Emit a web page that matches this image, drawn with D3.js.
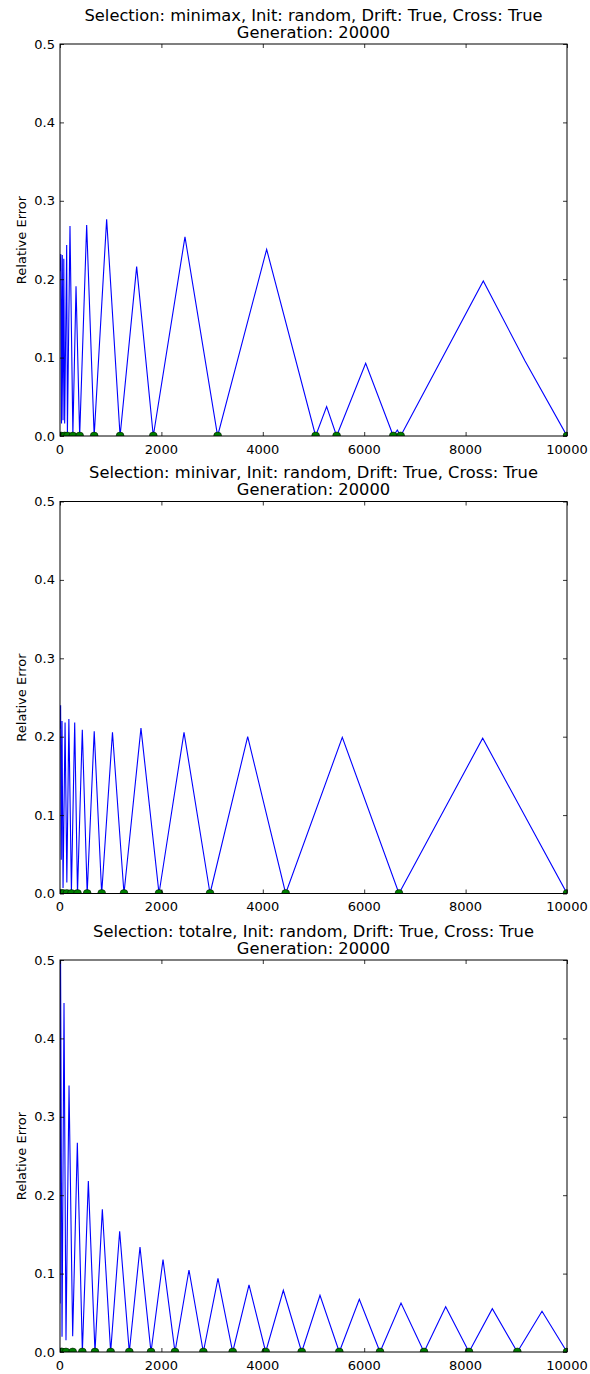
<!DOCTYPE html>
<html>
<head>
<meta charset="utf-8">
<script src="https://cdn.jsdelivr.net/npm/d3@7"></script>
<style>
  html, body { margin: 0; padding: 0; background: #fff; }
  svg { display: block; }
  text { font-family: "DejaVu Sans", sans-serif; fill: #000; }
</style>
</head>
<body>
<div id="chart"></div>
<script>
// Tick labels shared by all three panels
const xTicks = [0, 2000, 4000, 6000, 8000, 10000];
const yTicks = [0.0, 0.1, 0.2, 0.3, 0.4, 0.5];

const titles = [
  "Selection: minimax, Init: random, Drift: True, Cross: True",
  "Selection: minivar, Init: random, Drift: True, Cross: True",
  "Selection: totalre, Init: random, Drift: True, Cross: True"
];
const subtitle = "Generation: 20000";

// minimax selection: relative error per generation
const minimaxGen = [0, 15, 30, 45, 60, 75, 92, 132, 146, 197, 254, 316, 388, 526, 674, 920, 1185,
  1512, 1840, 2465, 3109, 4076, 5042, 5259, 5456, 6029, 6574, 6653, 6719, 8349, 9170, 10000];
const minimaxErr = [0.21, 0.232, 0.016, 0.231, 0.02, 0.226, 0.016, 0.2436, 0.003, 0.268, 0.002, 0.191, 0, 0.269, 0, 0.2764, 0,
  0.216, 0, 0.254, 0, 0.238, 0, 0.0374, 0, 0.0927, 0, 0.0077, 0, 0.1977, 0.096, 0];
const minimaxReset = [20, 92, 146, 254, 388, 674, 1185, 1840, 3109, 5042, 5456, 6574, 6719, 10000];

// minivar selection
const minivarGen = [0, 12, 25, 40, 60, 100, 135, 175, 225, 290, 345, 440, 536, 675, 822, 1035, 1262,
  1597, 1953, 2446, 2959, 3702, 4451, 5568, 6686, 8337, 10000];
const minivarErr = [0.21, 0.24, 0.043, 0.22, 0.007, 0.218, 0.014, 0.2226, 0.002, 0.218, 0, 0.209, 0, 0.207, 0, 0.2056, 0,
  0.211, 0, 0.2056, 0, 0.200, 0, 0.1992, 0, 0.198, 0];
const minivarReset = [20, 60, 135, 225, 345, 536, 822, 1262, 1953, 2959, 4451, 6686, 10000];

// totalre selection
const totalreGen = [0, 10, 40, 79, 118, 178, 250, 342, 441, 559, 690, 835, 999, 1177, 1367, 1578, 1795,
  2032, 2268, 2544, 2827, 3116, 3406, 3728, 4057, 4405, 4767, 5128, 5509, 5904, 6312, 6726, 7180,
  7607, 8067, 8527, 9020, 9507, 10000];
const totalreErr = [0.062, 0.52, 0.0195, 0.445, 0.015, 0.34, 0.02, 0.267, 0, 0.218, 0, 0.182, 0, 0.154, 0, 0.134, 0,
  0.118, 0, 0.1046, 0, 0.094, 0, 0.0855, 0, 0.0787, 0, 0.0723, 0, 0.0672, 0, 0.0625, 0,
  0.0578, 0, 0.0552, 0, 0.0519, 0];
const totalreReset = [20, 40, 118, 250, 441, 690, 999, 1367, 1795, 2268, 2827, 3406, 4057, 4767,
  5509, 6312, 7180, 8067, 9020, 10000];

const panels = [
  { title: titles[0], gen: minimaxGen, err: minimaxErr, reset: minimaxReset, top: 44 },
  { title: titles[1], gen: minivarGen, err: minivarErr, reset: minivarReset, top: 501.5 },
  { title: titles[2], gen: totalreGen, err: totalreErr, reset: totalreReset, top: 960 }
];

const W = 590, H = 1374;
const left = 60, right = 567, plotH = 392;
const tickFont = 13, titleFont = 16.3;

const svg = d3.select("#chart").append("svg")
  .attr("width", W).attr("height", H)
  .attr("viewBox", `0 0 ${W} ${H}`);
svg.append("rect").attr("width", W).attr("height", H).attr("fill", "#fff");

const x = d3.scaleLinear().domain([0, 10000]).range([left, right]);

panels.forEach((p, i) => {
  const top = p.top, bottom = top + plotH;
  const y = d3.scaleLinear().domain([0, 0.5]).range([bottom, top]);
  const g = svg.append("g");

  const clipId = "clip" + i;
  svg.append("clipPath").attr("id", clipId)
    .append("rect").attr("x", left).attr("y", top)
    .attr("width", right - left).attr("height", plotH);

  // error trace
  const pts = p.gen.map((v, k) => [v, p.err[k]]);
  g.append("path")
    .datum(pts)
    .attr("clip-path", `url(#${clipId})`)
    .attr("fill", "none")
    .attr("stroke", "#0000ff")
    .attr("stroke-width", 1.1)
    .attr("stroke-linejoin", "miter")
    .attr("d", d3.line().x(d => x(d[0])).y(d => y(d[1])));

  // population resets, marked on the zero line
  g.append("g").attr("clip-path", `url(#${clipId})`)
    .selectAll("circle").data(p.reset).join("circle")
    .attr("cx", d => x(d)).attr("cy", y(0)).attr("r", 4)
    .attr("fill", "#007f00").attr("stroke", "#000").attr("stroke-width", 0.5);

  // ticks pointing inward on all four sides
  const bottomAxis = d3.axisBottom(x).tickValues(xTicks).tickSize(-4).tickFormat("");
  const topAxis = d3.axisTop(x).tickValues(xTicks).tickSize(-4).tickFormat("");
  const leftAxis = d3.axisLeft(y).tickValues(yTicks).tickSize(-4).tickFormat("");
  const rightAxis = d3.axisRight(y).tickValues(yTicks).tickSize(-4).tickFormat("");
  [[bottomAxis, `translate(0,${bottom})`], [topAxis, `translate(0,${top})`],
   [leftAxis, `translate(${left},0)`], [rightAxis, `translate(${right},0)`]].forEach(([ax, tr]) => {
    const a = g.append("g").attr("transform", tr).call(ax);
    a.select(".domain").remove();
    a.selectAll("line").attr("stroke", "#000").attr("stroke-width", 0.8);
  });

  // frame
  g.append("rect").attr("x", left).attr("y", top)
    .attr("width", right - left).attr("height", plotH)
    .attr("fill", "none").attr("stroke", "#000").attr("stroke-width", 1);

  // tick labels
  g.append("g").selectAll("text").data(xTicks).join("text")
    .attr("x", d => x(d)).attr("y", bottom + 17.5)
    .attr("text-anchor", "middle").attr("font-size", tickFont)
    .text(d => d3.format("d")(d));
  g.append("g").selectAll("text").data(yTicks).join("text")
    .attr("x", left - 5).attr("y", d => y(d)).attr("dy", "0.35em")
    .attr("text-anchor", "end").attr("font-size", tickFont)
    .text(d => d3.format(".1f")(d));

  // axis label
  g.append("text")
    .attr("transform", `translate(${26},${(top + bottom) / 2}) rotate(-90)`)
    .attr("text-anchor", "middle").attr("font-size", tickFont)
    .text("Relative Error");

  // two-line title
  const cx = (left + right) / 2;
  g.append("text").attr("x", cx).attr("y", top - 23.5)
    .attr("text-anchor", "middle").attr("font-size", titleFont).text(p.title);
  g.append("text").attr("x", cx).attr("y", top - 6.5)
    .attr("text-anchor", "middle").attr("font-size", titleFont).text(subtitle);
});
</script>
</body>
</html>
